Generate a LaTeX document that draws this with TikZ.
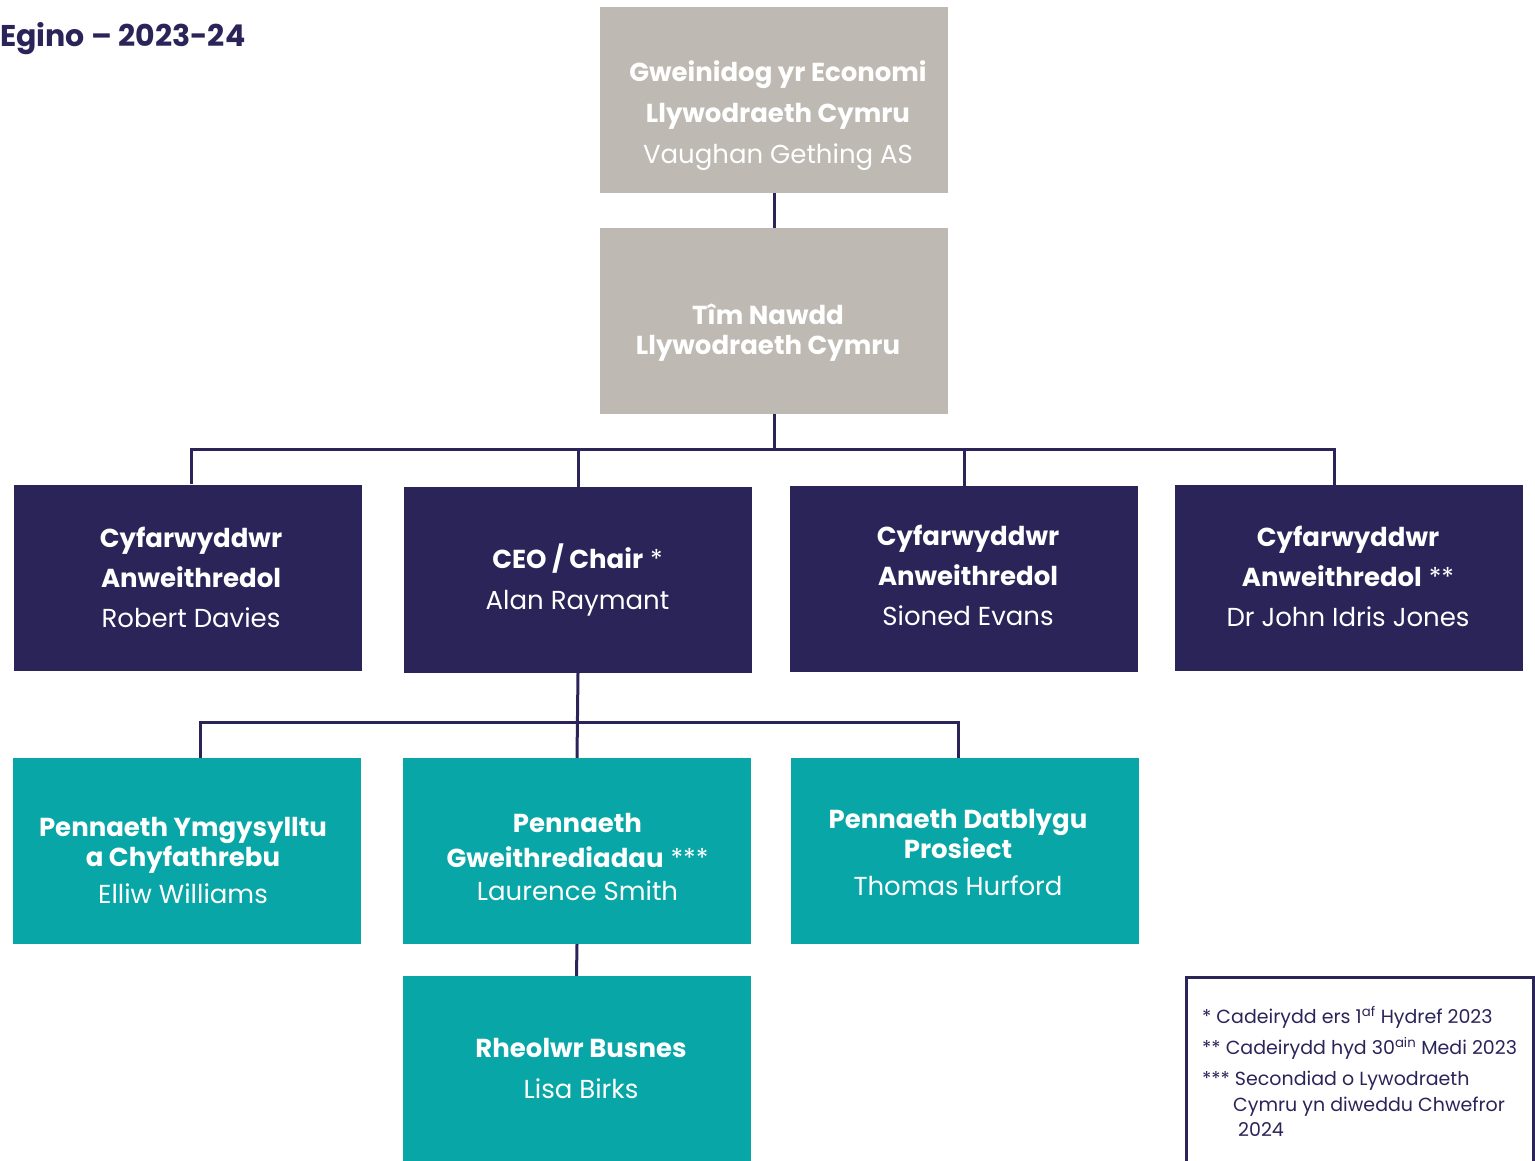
\documentclass[tikz,border=0pt]{standalone}
\usepackage{fontspec}
\setmainfont{Poppins}
\definecolor{navy}{HTML}{2A2459}
\definecolor{teal}{HTML}{08A6A6}
\definecolor{greybox}{HTML}{BEB9B2}
\begin{document}
\begin{tikzpicture}[x=1pt,y=-1pt,
  boxbase/.style={minimum width=348pt, minimum height=186pt, inner sep=0pt},
  greyb/.style={boxbase, fill=greybox},
  navyb/.style={boxbase, fill=navy},
  tealb/.style={boxbase, fill=teal},
  btxt/.style={inner sep=0pt, align=center, text=white, font=\fontsize{26}{41}\selectfont},
  conn/.style={draw=navy, line width=3pt},
  legtxt/.style={anchor=base west, inner sep=0pt, text=navy, font=\fontsize{19}{22}\selectfont}]
\useasboundingbox (0,0) rectangle (1535,1161);
\node[anchor=west, text=navy, inner sep=0pt, font=\bfseries\fontsize{30}{34}\selectfont] (title) at (0,39) {Egino -- 2023-24};
% boxes
\node[greyb] (gw) at (774,100) {};
\node[greyb] (tim) at (774,321) {};
\node[navyb] (a) at (188,577.5) {};
\node[navyb] (b) at (578,580) {};
\node[navyb] (c) at (964,579) {};
\node[navyb] (d) at (1349,578) {};
\node[tealb] (e) at (187,851) {};
\node[tealb] (f) at (577,851) {};
\node[tealb] (g) at (964.5,851) {};
\node[tealb] (h) at (576.5,1069) {};
% texts
\node[btxt] (gwt) at (778,115.5) {\textbf{Gweinidog yr Economi}\\\textbf{Llywodraeth Cymru}\\Vaughan Gething AS};
\node[btxt, font=\fontsize{26}{30}\selectfont] (timt) at (768,333) {\textbf{Tîm Nawdd}\\\textbf{Llywodraeth Cymru}};
\node[btxt, font=\fontsize{26}{40}\selectfont] (at) at (191,577) {\textbf{Cyfarwyddwr}\\\textbf{Anweithredol}\\Robert Davies};
\node[btxt] (bt) at (577.5,580.5) {\textbf{CEO / Chair} *\\Alan Raymant};
\node[btxt, font=\fontsize{26}{40}\selectfont] (ct) at (968,575.5) {\textbf{Cyfarwyddwr}\\\textbf{Anweithredol}\\Sioned Evans};
\node[btxt, font=\fontsize{26}{40}\selectfont] (dt) at (1348,576.5) {\textbf{Cyfarwyddwr}\\\textbf{Anweithredol} **\\Dr John Idris Jones};
\node[btxt, font=\fontsize{26}{40}\selectfont] (et) at (183,860.5) {\textbf{Pennaeth Ymgysylltu}\\[-10pt]\textbf{a Chyfathrebu}\\[-3pt]Elliw Williams};
\node[btxt, font=\fontsize{26}{40}\selectfont] (ft) at (577.5,857) {\textbf{Pennaeth}\\[-5pt]\textbf{Gweithrediadau} ***\\[-7pt]Laurence Smith};
\node[btxt, font=\fontsize{26}{40}\selectfont] (gt) at (958,852.5) {\textbf{Pennaeth Datblygu}\\[-10pt]\textbf{Prosiect}\\[-3pt]Thomas Hurford};
\node[btxt] (ht) at (581,1068.5) {\textbf{Rheolwr Busnes}\\Lisa Birks};
% connectors
\coordinate (bus1) at (774,449);
\coordinate (bus2) at (578,722);
\draw[conn] (gw.south) -- (tim.north);
\draw[conn] (tim.south) -- (bus1);
\draw[conn] ([xshift=3pt]a.north) |- (bus1) -| ([xshift=-15pt]d.north);
\draw[conn] (b.north) -- (b.north |- bus1);
\draw[conn] (c.north) -- (c.north |- bus1);
\draw[conn] (b.south) -- (f.north);
\draw[conn] ([xshift=13pt]e.north) |- (bus2) -| ([xshift=-6pt]g.north);
\draw[conn] (f.south) -- (h.north);
% legend
\coordinate (lgA) at (1186.5,977);
\coordinate (lgB) at (1533.5,1175);
\draw[navy, line width=3pt] (lgA) rectangle (lgB);
\node[legtxt] (l1) at (1202,1023) {* Cadeirydd ers 1\textsuperscript{af} Hydref 2023};
\node[legtxt] (l2) at (1202,1054) {** Cadeirydd hyd 30\textsuperscript{ain} Medi 2023};
\node[legtxt] (l3) at (1202,1085) {*** Secondiad o Lywodraeth};
\node[legtxt] (l4) at (1233,1111) {Cymru yn diweddu Chwefror};
\node[legtxt] (l5) at (1238,1136) {2024};
\end{tikzpicture}
\end{document}
